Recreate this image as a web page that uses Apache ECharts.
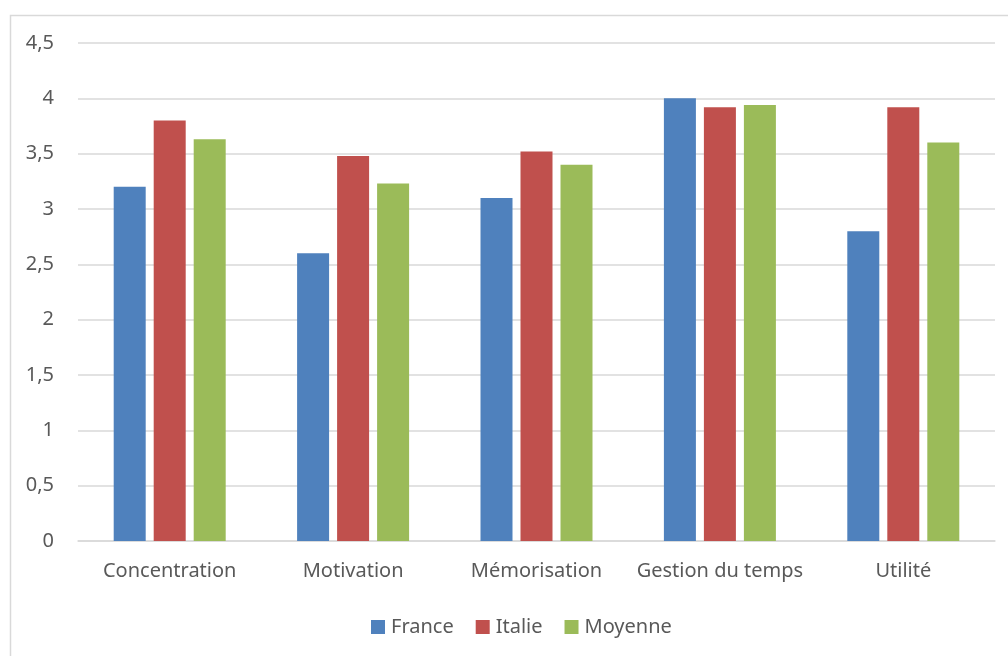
<!DOCTYPE html>
<html>
<head>
<meta charset="utf-8">
<script src="https://cdn.jsdelivr.net/npm/echarts@6/dist/echarts.min.js"></script>
<style>html,body{margin:0;padding:0;background:#fff}#c{width:1008px;height:656px}</style>
</head>
<body>
<div id="c"></div>
<script>
const categories = ['Concentration', 'Motivation', 'Mémorisation', 'Gestion du temps', 'Utilité'];
const france = [3.2, 2.6, 3.1, 4.0, 2.8];
const italie = [3.8, 3.48, 3.52, 3.92, 3.92];
const moyenne = [3.63, 3.23, 3.4, 3.94, 3.6];
const seriesNames = ['France', 'Italie', 'Moyenne'];

const chart = echarts.init(document.getElementById('c'));
const font = '"Noto Sans", "Open Sans", sans-serif';
chart.setOption({
  animation: false,
  textStyle: { fontFamily: font },
  color: ['#4f81bd', '#c0504d', '#9bbb59'],
  graphic: [{
    type: 'rect', left: 8, top: 13, shape: { width: 1100, height: 1000 },
    style: { fill: 'none', stroke: '#d9d9d9', lineWidth: 1.5 }, silent: true
  }],
  grid: { left: 78, right: 13, top: 43, bottom: 115, containLabel: false },
  legend: {
    left: 366, top: 612, itemWidth: 14, itemHeight: 14, itemGap: 22,
    icon: 'rect',
    textStyle: { fontSize: 20, color: '#595959', fontFamily: font, padding: [0, 0, 0, 1] },
    data: seriesNames
  },
  xAxis: {
    type: 'category', data: categories,
    axisLine: { lineStyle: { color: '#d9d9d9', width: 1.5 } },
    axisTick: { show: false },
    axisLabel: { fontSize: 20, color: '#595959', margin: 20, fontFamily: font, interval: 0, hideOverlap: false }
  },
  yAxis: {
    type: 'value', min: 0, max: 4.5, interval: 0.5,
    axisLine: { show: false }, axisTick: { show: false },
    splitLine: { lineStyle: { color: '#d9d9d9', width: 1.5 } },
    axisLabel: { fontSize: 20, color: '#595959', margin: 24, fontFamily: font,
      formatter: v => String(v).replace('.', ',') }
  },
  series: [
    { name: seriesNames[0], type: 'bar', data: france, barWidth: 32, barGap: '25%' },
    { name: seriesNames[1], type: 'bar', data: italie, barWidth: 32, barGap: '25%' },
    { name: seriesNames[2], type: 'bar', data: moyenne, barWidth: 32, barGap: '25%' }
  ]
});
</script>
</body>
</html>
